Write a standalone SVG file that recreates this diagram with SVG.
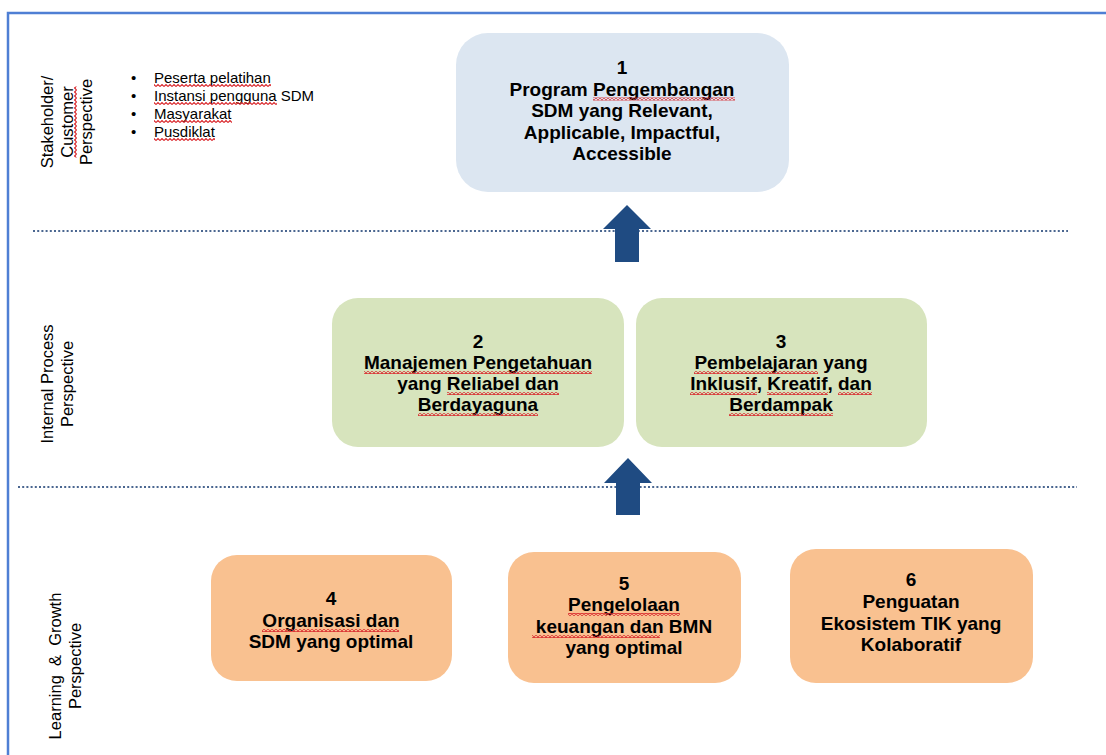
<svg xmlns="http://www.w3.org/2000/svg" width="1106" height="755" viewBox="0 0 1106 755">
<defs>
<pattern id="sq" patternUnits="userSpaceOnUse" width="4" height="3">
<path d="M0,2.5 L2,0.5 L4,2.5" fill="none" stroke="#d9262b" stroke-width="1.1"/>
</pattern>
<style>
.frame{stroke:#4f7fd4;stroke-width:2.5;fill:none}
.sep{stroke:#4a6690;stroke-width:2;stroke-dasharray:2 2.2;fill:none}
.arr{fill:#1f4b82}
.b1{fill:#dce6f1}
.b2{fill:#d7e4bd}
.b3{fill:#f9c190}
.t{font-family:"Liberation Sans",Arial,sans-serif;font-weight:bold;font-size:19px;fill:#000;text-anchor:middle}
.lab{font-family:"Liberation Sans",Arial,sans-serif;font-size:16.5px;fill:#000;text-anchor:middle}
.bul{font-family:"Liberation Sans",Arial,sans-serif;font-size:15px;fill:#000}
.sq{fill:url(#sq)}
</style>
</defs>
<rect width="1106" height="755" fill="#fff"/>
<path class="frame" d="M8,755 L8,13 L1106,13"/>
<line class="sep" x1="33" y1="231" x2="1068" y2="231"/>
<line class="sep" x1="18" y1="487" x2="1077" y2="487"/>

<g id="label-stakeholder">
<g transform="translate(53,122) rotate(-90)">
<text class="lab" x="0" y="0">Stakeholder/</text>
<text class="lab" x="0" y="19.5">Customer</text>
<text class="lab" x="0" y="39">Perspective</text>
<rect class="sq" x="-35.5" y="21" width="71" height="3"/>
</g>
</g>
<g id="label-internal">
<g transform="translate(53,384) rotate(-90)">
<text class="lab" x="0" y="0">Internal Process</text>
<text class="lab" x="0" y="19.5">Perspective</text>
</g>
</g>
<g id="label-learning">
<g transform="translate(61,666) rotate(-90)">
<text class="lab" x="0" y="0" xml:space="preserve">Learning  &amp;  Growth</text>
<text class="lab" x="0" y="19.5">Perspective</text>
</g>
</g>

<g id="stakeholders">
<text class="bul" x="131" y="82.5">•</text>
<text class="bul" x="131" y="100.5">•</text>
<text class="bul" x="131" y="118.5">•</text>
<text class="bul" x="131" y="136.5">•</text>
<text class="bul" x="154" y="82.5">Peserta pelatihan</text>
<text class="bul" x="154" y="100.5">Instansi pengguna SDM</text>
<text class="bul" x="154" y="118.5">Masyarakat</text>
<text class="bul" x="154" y="136.5">Pusdiklat</text>
<rect class="sq" x="154" y="84" width="117" height="3"/>
<rect class="sq" x="154" y="102" width="123" height="3"/>
<rect class="sq" x="154" y="120" width="78" height="3"/>
<rect class="sq" x="154" y="138" width="61" height="3"/>
</g>

<g id="node1">
<rect class="b1" x="456" y="33" width="333" height="159" rx="32"/>
<text class="t" x="622" y="74">1</text>
<text class="t" x="622" y="95.5">Program Pengembangan</text>
<text class="t" x="622" y="117">SDM yang Relevant,</text>
<text class="t" x="622" y="138.5">Applicable, Impactful,</text>
<text class="t" x="622" y="160">Accessible</text>
<rect class="sq" x="593" y="97.5" width="142" height="3"/>
</g>

<g id="node2">
<rect class="b2" x="332" y="298" width="292" height="149" rx="26"/>
<text class="t" x="478" y="348">2</text>
<text class="t" x="478" y="369">Manajemen Pengetahuan</text>
<text class="t" x="478" y="390">yang Reliabel dan</text>
<text class="t" x="478" y="411">Berdayaguna</text>
<rect class="sq" x="364" y="371" width="228" height="3"/>
<rect class="sq" x="447" y="392" width="112" height="3"/>
<rect class="sq" x="418" y="413" width="120" height="3"/>
</g>

<g id="node3">
<rect class="b2" x="636" y="298" width="291" height="149" rx="26"/>
<text class="t" x="781" y="348">3</text>
<text class="t" x="781" y="369">Pembelajaran yang</text>
<text class="t" x="781" y="390">Inklusif, Kreatif, dan</text>
<text class="t" x="781" y="411">Berdampak</text>
<rect class="sq" x="694" y="371" width="124" height="3"/>
<rect class="sq" x="690" y="392" width="67" height="3"/>
<rect class="sq" x="767" y="392" width="61" height="3"/>
<rect class="sq" x="838" y="392" width="34" height="3"/>
<rect class="sq" x="729" y="413" width="104" height="3"/>
</g>

<g id="node4">
<rect class="b3" x="211" y="555" width="241" height="126" rx="26"/>
<text class="t" x="331" y="605">4</text>
<text class="t" x="331" y="627">Organisasi dan</text>
<text class="t" x="331" y="648">SDM yang optimal</text>
<rect class="sq" x="262" y="629" width="137" height="3"/>
</g>

<g id="node5">
<rect class="b3" x="508" y="552" width="233" height="131" rx="26"/>
<text class="t" x="624" y="590">5</text>
<text class="t" x="624" y="611">Pengelolaan</text>
<text class="t" x="624" y="633">keuangan dan BMN</text>
<text class="t" x="624" y="654">yang optimal</text>
<rect class="sq" x="568" y="613" width="112" height="3"/>
<rect class="sq" x="532" y="635" width="128" height="3"/>
</g>

<g id="node6">
<rect class="b3" x="790" y="549" width="243" height="134" rx="26"/>
<text class="t" x="911" y="586">6</text>
<text class="t" x="911" y="608">Penguatan</text>
<text class="t" x="911" y="630">Ekosistem TIK yang</text>
<text class="t" x="911" y="651">Kolaboratif</text>
</g>

<g id="connectors">
<polygon class="arr" points="627,205 651,229 639,229 639,262 615,262 615,229 603,229"/>
<polygon class="arr" points="628,458 652,483 640,483 640,515 616,515 616,483 604,483"/>
</g>
</svg>
